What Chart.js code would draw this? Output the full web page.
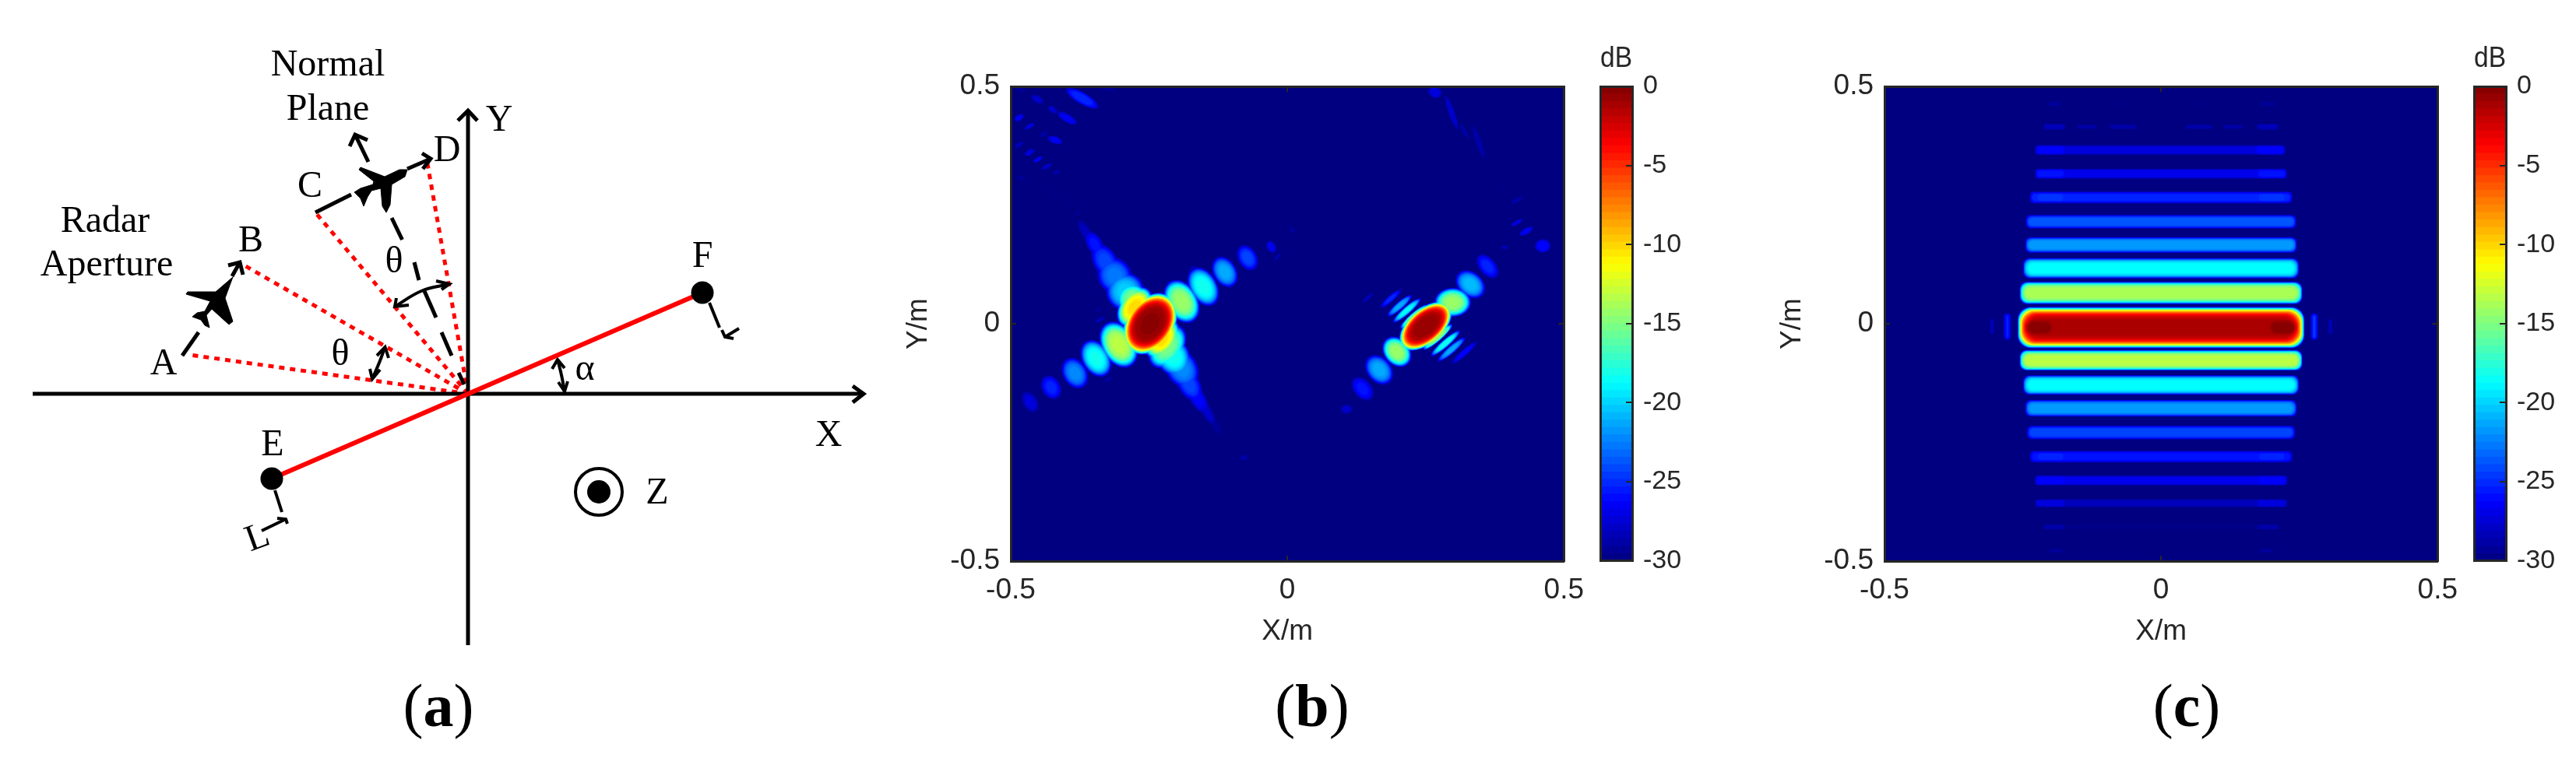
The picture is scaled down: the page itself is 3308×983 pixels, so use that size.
<!DOCTYPE html>
<html>
<head>
<meta charset="utf-8">
<style>
  html, body { margin: 0; padding: 0; background: #fff; width: 3308px; height: 983px; overflow: hidden; }
  canvas { position: absolute; }
  .cap { position: absolute; top: 862px; width: 200px; text-align: center; font: 78px "Liberation Serif", serif; color: #000; }
</style>
<script src="https://cdn.jsdelivr.net/npm/chart.js@4"></script>
</head>
<body>
<div class="cap" style="left:463px">(<b>a</b>)</div>
<div class="cap" style="left:1585px">(<b>b</b>)</div>
<div class="cap" style="left:2708px">(<b>c</b>)</div>
<script>
// panel (a) geometry, diagram units with the origin where the X and Y axes cross
const origin = [0, 0];
const ptA = [-357, 50];
const ptB = [-289, 166];
const ptC = [-196, 233];
const ptD = [-53, 301];
const ptE = [-252, -109];
const ptF = [301, 130];
const zMark = [168, -126];

const axisStrokes = [
    [[-559, 0], [508, 0]],
    [[494, 10], [508, 0], [494, -11]],
    [[0, -323], [0, 364]],
    [[-13, 351], [0, 364], [12, 351]]
];
const dashStrokes = [
    [[-367, 49], [-346, 79]],
    [[-303, 151], [-293, 169]],
    [[-308, 165], [-293, 169], [-289, 153]],
    [[-196, 233], [-150, 256]],
    [[-78, 289], [-48, 302]],
    [[-59, 309], [-48, 302], [-58, 289]],
    [[-128, 298], [-145, 333]],
    [[-152, 318], [-145, 333], [-129, 326]],
    [[-98, 226], [-84.5, 198]],
    [[-69, 169], [-63, 146]],
    [[-56, 132], [-41, 98]],
    [[-34, 79], [-21, 49]],
    [[-12, 27], [-5, 12]]
];
const thinStrokes = [
    [[-248, -124], [-239, -152]],
    [[-265, -176], [-234, -161]],
    [[-245, -160], [-234, -161], [-232, -167]],
    [[310, 117], [323, 85]],
    [[348, 84], [330, 73]],
    [[326, 82], [330, 73], [341, 71]],
    [[108, 32], [115, 44], [124, 33]],
    [[116, 15], [124, 3], [128, 16]],
    [[-117, 49], [-106.5, 60], [-102, 46]],
    [[-126, 32], [-123, 19], [-113, 31]],
    [[-41, 145], [-24, 141], [-34, 134]],
    [[-92, 123], [-94, 112], [-76, 114]]
];
const arcStrokes = [
    [[115, 44], [120, 24], [124, 3]],
    [[-106.5, 60], [-114, 40], [-123, 19]],
    [[-24, 141], [-60, 132], [-94, 112]]
];
const planeOne = [
    [-302, 150], [-312, 123], [-302, 93], [-307, 89], [-329, 109], [-336, 101], [-332, 85], [-338, 88],
    [-343, 95], [-354, 99], [-348, 104], [-338, 106], [-331, 119], [-362, 128], [-360, 131], [-324, 131], [-302, 150]
];
const planeTwo = [
    [-78, 288], [-81, 279], [-98, 269], [-100, 243], [-105, 233], [-110, 241], [-112, 264], [-124, 261], [-129, 253],
    [-134, 241], [-138, 251], [-146, 259], [-138, 264], [-122, 269], [-121, 273], [-140, 288], [-138, 291], [-107, 279], [-88, 288], [-78, 288]
];
// text, x, y, rotation
const diagramLabels = [
    ['Normal', -180, 422, 0], ['Plane', -180, 365, 0],
    ['Radar', -466, 221, 0], ['Aperture', -464, 165, 0],
    ['A', -391, 38, 0], ['B', -279, 196, 0], ['C', -203, 266, 0], ['D', -27, 312, 0],
    ['E', -251, -66, 0], ['F', 301, 176, 0], ['X', 463, -54, 0], ['Y', 40, 351, 0],
    ['Z', 243, -128, 0], ['θ', -164, 50, 0], ['θ', -95, 169, 0], ['α', 150, 31, 0],
    ['L', -270, -186, -20]
];

// heat maps are read off the picture lobe by lobe, not cell by cell:
// x (m), y (m), peak dB, half length (m), half width (m), tilt (deg, screen)
const leftCore = [[-0.248, 0, -0.2, 0.062, 0.044, -55]];
const rightCore = [[0.25, -0.005, -0.5, 0.058, 0.032, -41]];
const leftChain = [
    [-0.465, -0.165, -27, 0.022, 0.014, 60], [-0.427, -0.134, -25, 0.024, 0.018, 60],
    [-0.384, -0.104, -22, 0.031, 0.023, 60], [-0.346, -0.073, -18, 0.037, 0.026, 60],
    [-0.305, -0.044, -13, 0.046, 0.032, 60], [-0.191, 0.047, -14, 0.043, 0.03, 60],
    [-0.152, 0.078, -18, 0.039, 0.026, 60], [-0.113, 0.109, -21, 0.031, 0.022, 60],
    [-0.072, 0.139, -24, 0.026, 0.018, 60], [-0.029, 0.162, -26.5, 0.013, 0.009, 60],
    [0.009, 0.198, -28.5, 0.007, 0.004, 60], [-0.018, 0.141, -28, 0.01, 0.003, -50],
    [-0.172, 0.118, -28.5, 0.01, 0.003, -30], [-0.211, 0.081, -27.5, 0.014, 0.005, -30],
    [-0.283, -0.081, -27, 0.012, 0.005, -30], [-0.324, -0.117, -28.5, 0.01, 0.003, -30],
    [-0.079, -0.282, -28.5, 0.008, 0.006, 0], [-0.339, 0.009, -28, 0.012, 0.004, -30],
    [-0.341, 0.03, -29, 0.01, 0.003, -30]
];
const leftStreak = [
    [-0.365, 0.194, -28, 0.026, 0.01, 60], [-0.348, 0.167, -25.5, 0.028, 0.015, 60],
    [-0.329, 0.131, -24, 0.036, 0.023, 60], [-0.312, 0.101, -22.5, 0.036, 0.032, 60],
    [-0.293, 0.068, -20, 0.036, 0.036, 60], [-0.28, 0.052, -15, 0.03, 0.03, 60],
    [-0.276, 0.035, -10, 0.042, 0.028, -55], [-0.227, -0.031, -10, 0.042, 0.028, -55],
    [-0.217, -0.048, -15, 0.045, 0.03, -55], [-0.208, -0.067, -18, 0.042, 0.032, 60],
    [-0.191, -0.094, -22, 0.04, 0.03, 60], [-0.178, -0.127, -24, 0.036, 0.021, 60],
    [-0.162, -0.157, -26, 0.032, 0.015, 60], [-0.145, -0.186, -27.5, 0.028, 0.01, 60],
    [-0.129, -0.216, -29, 0.018, 0.008, 60]
];
const cornerLobes = [
    [-0.371, 0.475, -25, 0.035, 0.011, 30], [-0.452, 0.473, -27.5, 0.013, 0.007, 30],
    [-0.483, 0.494, -29, 0.014, 0.004, 30], [-0.398, 0.433, -26.5, 0.021, 0.008, 30],
    [-0.424, 0.451, -27.5, 0.01, 0.006, 30], [-0.485, 0.434, -26.5, 0.01, 0.006, -30],
    [-0.466, 0.416, -27, 0.011, 0.004, -30], [-0.42, 0.387, -26.5, 0.015, 0.007, 20],
    [-0.441, 0.399, -28.5, 0.008, 0.004, -30], [-0.485, 0.377, -28, 0.01, 0.004, -30],
    [-0.466, 0.361, -27, 0.011, 0.005, -30], [-0.451, 0.346, -26.5, 0.01, 0.004, -30],
    [-0.435, 0.331, -27.5, 0.011, 0.004, -30], [-0.417, 0.319, -28.5, 0.008, 0.004, -30],
    [-0.481, 0.307, -29, 0.01, 0.004, 0], [-0.325, 0.494, -29, 0.017, 0.004, 10],
    [-0.437, 0.286, -29.5, 0.007, 0.003, -40], [-0.42, 0.273, -29.5, 0.007, 0.003, -40],
    [-0.391, 0.248, -29.5, 0.007, 0.003, -40], [-0.378, 0.233, -29, 0.007, 0.003, -40]
];
const rightChain = [
    [0.107, -0.18, -27.5, 0.012, 0.009, 0], [0.136, -0.137, -25.5, 0.026, 0.017, 50],
    [0.166, -0.097, -21, 0.031, 0.023, 50], [0.198, -0.059, -14, 0.031, 0.024, 50],
    [0.299, 0.045, -14, 0.034, 0.027, 0], [0.331, 0.083, -20.5, 0.031, 0.023, 40],
    [0.362, 0.121, -25, 0.027, 0.016, 50], [0.393, 0.161, -28, 0.007, 0.004, 0]
];
const rightFaint = [
    [0.415, 0.213, -27, 0.013, 0.004, -30], [0.432, 0.195, -26.5, 0.015, 0.006, -30],
    [0.462, 0.164, -26, 0.015, 0.013, 0], [0.415, 0.26, -28.5, 0.014, 0.004, -30],
    [0.385, 0.289, -29.5, 0.008, 0.003, -30], [0.267, 0.488, -27, 0.014, 0.011, 30],
    [0.297, 0.445, -27.5, 0.035, 0.006, 70], [0.346, 0.382, -28.5, 0.035, 0.006, 70],
    [0.32, 0.405, -28.5, 0.017, 0.004, 60]
];
const rightStripes = [
    [0.229, 0.015, -15, 0.034, 0.007, -41], [0.216, 0.028, -18.5, 0.034, 0.007, -41],
    [0.203, 0.038, -21, 0.03, 0.007, -41], [0.187, 0.053, -25, 0.026, 0.006, -41],
    [0.146, 0.055, -28, 0.014, 0.004, -41], [0.272, -0.028, -14, 0.036, 0.007, -41],
    [0.286, -0.041, -18, 0.036, 0.007, -41], [0.297, -0.054, -21, 0.034, 0.007, -41],
    [0.32, -0.061, -26, 0.032, 0.006, -41]
];

// panel (c): x (m), y (m), peak dB, half width (m), half height (m)
const mainBand = [
    [0, -0.008, -1, 0.26, 0.044],
    [-0.219, -0.008, -0.1, 0.036, 0.03], [0.219, -0.008, -0.1, 0.036, 0.03]
];
const bandRows = [
    [-0.193, 0.463, -29, 0.013, 0.005], [0.193, 0.463, -29, 0.013, 0.005],
    [-0.067, 0.463, -29.7, 0.01, 0.004], [0.067, 0.463, -29.7, 0.01, 0.004],
    [-0.193, 0.415, -28, 0.02, 0.0066], [0.193, 0.415, -28, 0.02, 0.0066],
    [-0.134, 0.415, -28.7, 0.018, 0.005], [0.131, 0.415, -28.7, 0.018, 0.005],
    [-0.069, 0.415, -28.3, 0.024, 0.005], [0.069, 0.415, -28.3, 0.024, 0.005],
    [0, 0.366, -27, 0.22, 0.011], [0, 0.316, -26.5, 0.228, 0.011],
    [0, 0.266, -25, 0.238, 0.013], [0, 0.215, -23.5, 0.245, 0.015],
    [0, 0.166, -21.5, 0.246, 0.017], [0, 0.117, -18.5, 0.25, 0.022],
    [0, 0.065, -13.5, 0.256, 0.024], [0, -0.077, -13, 0.256, 0.022],
    [0, -0.129, -18.5, 0.25, 0.021], [0, -0.178, -21.5, 0.246, 0.018],
    [0, -0.229, -24, 0.243, 0.015], [0, -0.28, -25.5, 0.238, 0.013],
    [0, -0.33, -26.5, 0.229, 0.011], [0, -0.378, -28, 0.22, 0.0095],
    [0, -0.428, -29.3, 0.213, 0.005],
    [-0.193, -0.428, -28.5, 0.02, 0.006], [0.193, -0.428, -28.5, 0.02, 0.006],
    [-0.19, -0.478, -29, 0.013, 0.005], [0.19, -0.478, -29, 0.013, 0.005],
    [-0.2, 0.366, -26, 0.028, 0.011], [0.197, 0.366, -26, 0.028, 0.011],
    [-0.2, 0.316, -25.5, 0.028, 0.011], [0.2, 0.316, -25.5, 0.028, 0.011],
    [-0.2, 0.266, -24.5, 0.028, 0.012], [0.2, 0.266, -24.5, 0.028, 0.012],
    [-0.2, -0.28, -25, 0.028, 0.012], [0.2, -0.28, -25, 0.028, 0.012],
    [-0.2, -0.33, -26, 0.028, 0.011], [0.2, -0.33, -26, 0.028, 0.011],
    [-0.2, -0.378, -27, 0.028, 0.009], [0.2, -0.378, -27, 0.028, 0.009],
    [-0.278, -0.006, -24, 0.008, 0.03], [0.277, -0.006, -23, 0.008, 0.03],
    [-0.306, -0.006, -27.5, 0.005, 0.018], [0.306, -0.006, -27.5, 0.005, 0.018],
    [0, -0.059, -25, 0.2, 0.003]
];

const axisTicks = [-0.5, 0, 0.5];
const dbTicks = [-30, -25, -20, -15, -10, -5, 0];
const dbMin = -30;
const dbMax = 0;

const ink = '#262626';
const sansFont = '"Liberation Sans", Arial, sans-serif';
const serifFont = '"Liberation Serif", "Times New Roman", serif';

function addCanvas(left, top, w, h) {
    const c = document.createElement('canvas');
    c.width = w;
    c.height = h;
    c.style.left = left + 'px';
    c.style.top = top + 'px';
    c.style.width = w + 'px';
    c.style.height = h + 'px';
    document.body.appendChild(c);
    return c.getContext('2d');
}

// same ramp as the colour bar
function jet(db) {
    const t = (db - dbMin) / (dbMax - dbMin);
    const ch = k => Math.round(255 * Math.min(1, Math.max(0, 1.5 - Math.abs(4 * t - k))));
    return `rgb(${ch(3)},${ch(2)},${ch(1)})`;
}

function toPoints(list) {
    return list.map(p => ({ x: p[0], y: p[1] }));
}

function stroke(list, color, width, extra) {
    return Object.assign({
        data: toPoints(list), showLine: true, pointRadius: 0,
        borderColor: color, borderWidth: width, tension: 0
    }, extra || {});
}

// panel (a)
const labelPlugin = {
    id: 'diagramText',
    afterDatasetsDraw(chart) {
        const { ctx, scales } = chart;
        diagramLabels.forEach(row => {
            ctx.save();
            ctx.translate(scales.x.getPixelForValue(row[1]), scales.y.getPixelForValue(row[2]));
            ctx.rotate(row[3] * Math.PI / 180);
            ctx.font = `48px ${serifFont}`;
            ctx.fillStyle = '#000';
            ctx.textAlign = 'center';
            ctx.textBaseline = 'middle';
            ctx.fillText(row[0], 0, 0);
            ctx.restore();
        });
    }
};

const diagramSets = [];
[ptA, ptB, ptC, ptD].forEach(p => {
    diagramSets.push(stroke([origin, p], '#ff0000', 5, { borderDash: [7, 7] }));
});
axisStrokes.forEach(s => diagramSets.push(stroke(s, '#000', 5)));
dashStrokes.forEach(s => diagramSets.push(stroke(s, '#000', 5)));
thinStrokes.forEach(s => diagramSets.push(stroke(s, '#000', 4)));
arcStrokes.forEach(s => diagramSets.push(stroke(s, '#000', 4, { tension: 0.4 })));
[planeOne, planeTwo].forEach(s => {
    diagramSets.push(stroke(s, '#000', 1, { fill: { target: 'shape' }, backgroundColor: '#000' }));
});
diagramSets.push(stroke([ptE, ptF], '#ff0000', 6));
diagramSets.push({ data: toPoints([ptE, ptF]), pointRadius: 14.5, backgroundColor: '#000', borderWidth: 0 });
diagramSets.push({ data: toPoints([zMark]), pointRadius: 30, backgroundColor: '#fff', borderColor: '#000', borderWidth: 4 });
diagramSets.push({ data: toPoints([zMark]), pointRadius: 15, backgroundColor: '#000', borderWidth: 0 });

new Chart(addCanvas(0, 0, 1140, 983), {
    type: 'scatter',
    // Chart.js paints the first dataset on top, the list above is bottom to top
    data: { datasets: diagramSets.reverse() },
    plugins: [labelPlugin],
    options: {
        responsive: false,
        animation: false,
        devicePixelRatio: 1,
        layout: { padding: 0, autoPadding: false },
        plugins: { legend: { display: false }, tooltip: { enabled: false } },
        scales: {
            x: { display: false, min: -601, max: 539 },
            y: { display: false, min: -477, max: 506 }
        }
    }
});

// paints every lobe level by level from the floor up, so the highest value wins where lobes overlap
const lobePlugin = {
    id: 'lobeField',
    beforeDatasetsDraw(chart) {
        const { ctx, chartArea: a, scales } = chart;
        const sx = scales.x.width;
        const sy = scales.y.height;
        ctx.save();
        ctx.beginPath();
        ctx.rect(a.left, a.top, a.width, a.height);
        ctx.clip();
        ctx.fillStyle = jet(dbMin);
        ctx.fillRect(a.left, a.top, a.width, a.height);
        for (let level = -29.75; level < dbMax; level += 0.5) {
            ctx.fillStyle = jet(level);
            chart.data.datasets.forEach(set => {
                set.rows.forEach(r => {
                    if (r[2] < level) return;
                    const s = Math.pow((r[2] - level) / (r[2] - dbMin), set.falloff);
                    const px = scales.x.getPixelForValue(r[0]);
                    const py = scales.y.getPixelForValue(r[1]);
                    ctx.beginPath();
                    if (set.bar) {
                        const h = r[4] * sy;
                        const w = r[3] * sx - h * (1 - s);
                        if (w <= 0) return;
                        ctx.roundRect(px - w, py - h * s, 2 * w, 2 * h * s, Math.min(w, h * s, h * 0.6));
                    } else {
                        ctx.ellipse(px, py, r[3] * sx * s, r[4] * sx * s, r[5] * Math.PI / 180, 0, 2 * Math.PI);
                    }
                    ctx.fill();
                });
            });
        }
        ctx.restore();
    }
};

function boxEdge(position, horizontal) {
    const edge = {
        type: 'linear', position: position, min: -0.5, max: 0.5,
        ticks: { display: false, stepSize: 0.5 },
        grid: { drawOnChartArea: false, tickLength: -7, tickColor: ink, lineWidth: 2, z: 1 },
        border: { color: ink, width: 3, z: 1 }
    };
    edge.afterFit = s => { if (horizontal) s.height = 0; else s.width = 0; };
    return edge;
}

function plotAxis(position, title, size, horizontal, padding) {
    return {
        type: 'linear', position: position, min: -0.5, max: 0.5,
        afterBuildTicks: s => { s.ticks = axisTicks.map(v => ({ value: v })); },
        ticks: {
            color: ink, font: { family: sansFont, size: 37 }, padding: padding,
            maxRotation: 0, autoSkip: false, callback: v => String(v)
        },
        grid: { drawOnChartArea: false, tickLength: -7, tickColor: ink, lineWidth: 2, z: 1 },
        border: { color: ink, width: 3, z: 1 },
        title: { display: true, text: title, color: ink, font: { family: sansFont, size: 37 }, padding: 0 },
        afterFit: s => { if (horizontal) s.height = size; else s.width = size; }
    };
}

function heatChart(plotLeft, datasets) {
    return new Chart(addCanvas(plotLeft - 140, 60, 899, 774), {
        type: 'scatter',
        data: { datasets: datasets },
        plugins: [lobePlugin],
        options: {
            responsive: false,
            animation: false,
            devicePixelRatio: 1,
            layout: { padding: { left: 0, top: 51, right: 40, bottom: 0 } },
            plugins: { legend: { display: false }, tooltip: { enabled: false } },
            scales: {
                x: plotAxis('bottom', 'X/m', 113, true, 23),
                y: plotAxis('left', 'Y/m', 140, false, 21),
                xTop: boxEdge('top', true),
                yRight: boxEdge('right', false)
            }
        }
    });
}

function lobeSet(rows, falloff, bar) {
    return { rows: rows, falloff: falloff, bar: !!bar, data: toPoints(rows), pointRadius: 0 };
}

function colorBar(barLeft) {
    const sets = [];
    for (let i = 0; i < 64; i++) {
        const lo = dbMin + i * (dbMax - dbMin) / 64;
        const hi = lo + (dbMax - dbMin) / 64;
        // nested bars, the first dataset lands on top, so no seams between the steps
        sets.push({ data: [[dbMin, hi]], backgroundColor: jet(lo + 0.234), borderWidth: 0, barPercentage: 1, categoryPercentage: 1 });
    }
    new Chart(addCanvas(barLeft - 10, 54, 160, 709), {
        type: 'bar',
        data: { labels: [''], datasets: sets },
        options: {
            responsive: false,
            animation: false,
            devicePixelRatio: 1,
            layout: { padding: { left: 10, top: 0, right: 9, bottom: 30 } },
            plugins: { legend: { display: false }, tooltip: { enabled: false } },
            datasets: { bar: { grouped: false } },
            scales: {
                x: {
                    type: 'category', position: 'top',
                    ticks: { display: false },
                    grid: { display: false },
                    border: { color: ink, width: 3, z: 1 },
                    title: { display: true, text: 'dB', color: ink, font: { family: sansFont, size: 37 }, padding: 0 },
                    afterFit: s => { s.height = 57; }
                },
                xBottom: {
                    type: 'category', position: 'bottom', labels: [''],
                    ticks: { display: false },
                    grid: { display: false },
                    border: { color: ink, width: 3, z: 1 },
                    afterFit: s => { s.height = 0; }
                },
                y: {
                    type: 'linear', position: 'right', min: dbMin, max: dbMax,
                    afterBuildTicks: s => { s.ticks = dbTicks.map(v => ({ value: v })); },
                    ticks: { color: ink, font: { family: sansFont, size: 34 }, padding: 22, callback: v => String(v) },
                    grid: { drawOnChartArea: false, tickLength: -8, tickColor: ink, lineWidth: 2, z: 1 },
                    border: { color: ink, width: 3, z: 1 },
                    afterFit: s => { s.width = 100; }
                },
                yLeft: {
                    type: 'linear', position: 'left', min: dbMin, max: dbMax,
                    ticks: { display: false },
                    grid: { display: false },
                    border: { color: ink, width: 3, z: 1 },
                    afterFit: s => { s.width = 0; }
                }
            }
        }
    });
}

heatChart(1298, [
    lobeSet(cornerLobes, 0.18),
    lobeSet(leftChain, 0.25),
    lobeSet(leftStreak, 0.25),
    lobeSet(rightChain, 0.25),
    lobeSet(rightFaint, 0.18),
    lobeSet(rightStripes, 0.25),
    lobeSet(leftCore, 0.17),
    lobeSet(rightCore, 0.17)
]);
colorBar(2055);

heatChart(2420, [
    lobeSet(bandRows, 0.2, true),
    lobeSet(mainBand, 0.2, true)
]);
colorBar(3177);
</script>
</body>
</html>
